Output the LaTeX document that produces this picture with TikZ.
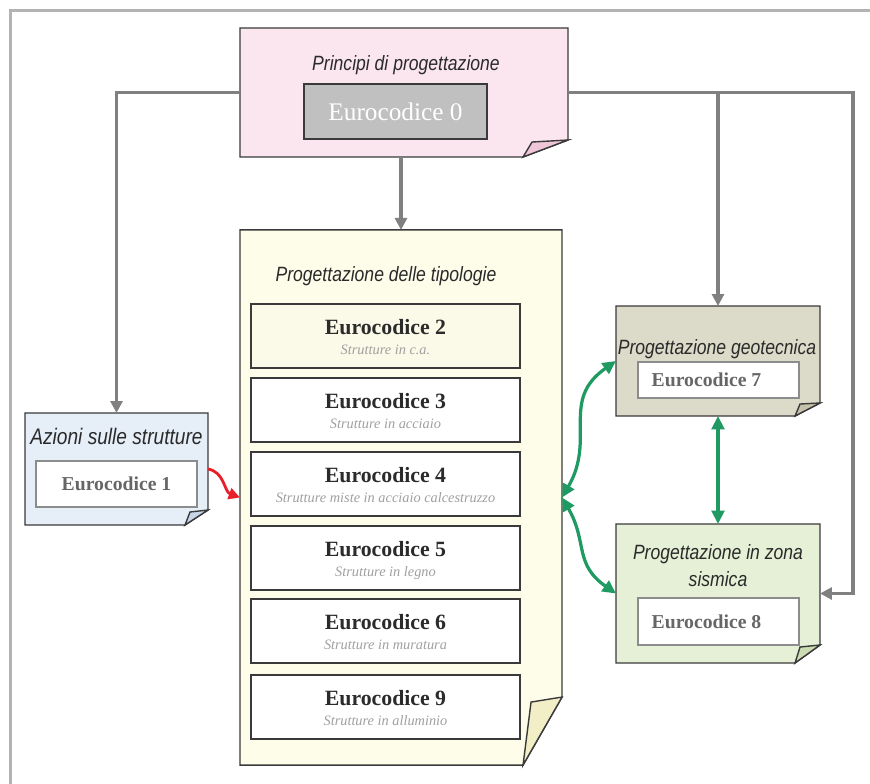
\documentclass[tikz,border=0pt]{standalone}
\usepackage{fontspec}
\setmainfont{Liberation Serif}
\newfontfamily\narrowsans[FakeStretch=0.85]{Liberation Sans}
\usetikzlibrary{arrows.meta,calc}

\definecolor{framegray}{HTML}{B3B3B3}
\definecolor{linegray}{HTML}{808080}
\definecolor{edgegray}{HTML}{3A3A3A}
\definecolor{boxgray}{HTML}{8C8C8C}
\definecolor{titlegray}{HTML}{2A2A2A}
\definecolor{ecdark}{HTML}{2B2B2B}
\definecolor{subgray}{HTML}{A0A0A0}
\definecolor{sidegray}{HTML}{666666}
\definecolor{codegray}{HTML}{C0C0C0}
\definecolor{notepink}{HTML}{FBE6EF}
\definecolor{foldpink}{HTML}{EFC6D8}
\definecolor{noteblue}{HTML}{E6EEF8}
\definecolor{foldblue}{HTML}{C9D5E8}
\definecolor{notecream}{HTML}{FEFDEA}
\definecolor{foldcream}{HTML}{F2EEC6}
\definecolor{ectwo}{HTML}{FBF9E8}
\definecolor{notekhaki}{HTML}{DCDAC8}
\definecolor{foldkhaki}{HTML}{C4C2AA}
\definecolor{notegreen}{HTML}{E6F0D6}
\definecolor{foldgreen}{HTML}{CCDDB4}
\definecolor{linkgreen}{HTML}{1E9A62}
\definecolor{linkred}{HTML}{E8202A}

\tikzset{
  notebox/.style={inner sep=0pt, outer sep=0pt},
  noteedge/.style={draw=edgegray, line width=1pt},
  notetitle/.style={inner sep=0pt, text=titlegray, font=\narrowsans\itshape\fontsize{14.7}{19.2}\selectfont},
  codebox/.style={draw=edgegray, line width=1pt, fill=codegray, minimum width=4.575cm, minimum height=1.375cm,
    inner sep=0pt, outer sep=0pt, text=white, font=\fontsize{18}{20}\selectfont},
  ecbox/.style={draw=edgegray, line width=1pt, minimum width=6.725cm, minimum height=1.6cm, inner sep=0pt, outer sep=0pt},
  ectitle/.style={anchor=base, inner sep=0pt, text=ecdark, font=\bfseries\fontsize{15.5}{18}\selectfont},
  ecsub/.style={anchor=base, inner sep=0pt, text=subgray, font=\itshape\fontsize{10.2}{12}\selectfont},
  sidebox/.style={draw=boxgray, line width=1pt, fill=white, minimum width=4.025cm, inner sep=0pt, outer sep=0pt,
    text=sidegray, font=\bfseries\fontsize{14}{16}\selectfont},
  feed/.style={draw=linegray, line width=2.2pt, -{Triangle[length=8.5pt,width=8.5pt]}},
  greenlink/.style={draw=linkgreen, line width=2.3pt, {Triangle[length=9.5pt,width=9pt]}-{Triangle[length=9.5pt,width=9pt]}},
  redlink/.style={draw=linkred, line width=2pt, -{Triangle[length=8pt,width=8pt]}}
}

\begin{document}
\begin{tikzpicture}[x=0.025cm, y=0.025cm]
  \useasboundingbox (0,0) rectangle (870,784);
  \draw[framegray, line width=2.1pt] (10.5,0) -- (10.5,773.5) -- (870,773.5);

  % sheets
  \node[notebox, minimum width=8.2cm, minimum height=3.225cm] (princ) at (404,691.5) {};
  \node[notebox, minimum width=4.575cm, minimum height=2.8cm] (azioni) at (116.5,315) {};
  \node[notebox, minimum width=8.05cm, minimum height=13.375cm] (tipol) at (401,286.5) {};
  \node[notebox, minimum width=5.1cm, minimum height=2.75cm] (geo) at (718,423) {};
  \node[notebox, minimum width=5.1cm, minimum height=3.475cm] (zona) at (718,190.5) {};

  % paper with folded corner
  \filldraw[noteedge, fill=notepink] (princ.north west) -- (princ.north east) -- ($(princ.south east)+(0,17)$)
    -- ($(princ.south east)+(-45,0)$) -- (princ.south west) -- cycle;
  \filldraw[noteedge, fill=foldpink] ($(princ.south east)+(0,17)$) -- ($(princ.south east)+(-36,15)$) -- ($(princ.south east)+(-45,0)$) -- cycle;
  \filldraw[noteedge, fill=noteblue] (azioni.north west) -- (azioni.north east) -- ($(azioni.south east)+(0,15)$)
    -- ($(azioni.south east)+(-23,0)$) -- (azioni.south west) -- cycle;
  \filldraw[noteedge, fill=foldblue] ($(azioni.south east)+(0,15)$) -- ($(azioni.south east)+(-18,13)$) -- ($(azioni.south east)+(-23,0)$) -- cycle;
  \filldraw[noteedge, fill=notecream] (tipol.north west) -- (tipol.north east) -- ($(tipol.south east)+(0,68)$)
    -- ($(tipol.south east)+(-39,0)$) -- (tipol.south west) -- cycle;
  \filldraw[noteedge, fill=foldcream] ($(tipol.south east)+(0,68)$) -- ($(tipol.south east)+(-31,63)$) -- ($(tipol.south east)+(-39,0)$) -- cycle;
  \filldraw[noteedge, fill=notekhaki] (geo.north west) -- (geo.north east) -- ($(geo.south east)+(0,13)$)
    -- ($(geo.south east)+(-25,0)$) -- (geo.south west) -- cycle;
  \filldraw[noteedge, fill=foldkhaki] ($(geo.south east)+(0,13)$) -- ($(geo.south east)+(-20,12)$) -- ($(geo.south east)+(-25,0)$) -- cycle;
  \filldraw[noteedge, fill=notegreen] (zona.north west) -- (zona.north east) -- ($(zona.south east)+(0,18)$)
    -- ($(zona.south east)+(-25,0)$) -- (zona.south west) -- cycle;
  \filldraw[noteedge, fill=foldgreen] ($(zona.south east)+(0,18)$) -- ($(zona.south east)+(-20,16)$) -- ($(zona.south east)+(-25,0)$) -- cycle;

  % titles
  \node[notetitle, anchor=base] (princt) at (406,713.3) {Principi di progettazione};
  \node[notetitle, anchor=base, font=\narrowsans\itshape\fontsize{16}{19}\selectfont] (azionit) at (116.5,339) {Azioni sulle strutture};
  \node[notetitle, anchor=base] (tipolt) at (386,502) {Progettazione delle tipologie};
  \node[notetitle, anchor=base] (geot) at (717,429) {Progettazione geotecnica};
  \node[notetitle, align=center] (zonat) at (718,218) {Progettazione in zona\\sismica};

  % codes
  \node[codebox] (ec0) at (395.5,672.5) {Eurocodice 0};
  \node[sidebox, minimum height=1.15cm] (ec1) at (116.5,300) {Eurocodice 1};
  \node[sidebox, minimum height=0.9cm] (ec7) at (718.5,404) {Eurocodice 7\hspace*{0.6cm}};
  \node[sidebox, minimum height=1.175cm] (ec8) at (718.5,162.5) {Eurocodice 8\hspace*{0.6cm}};
  \foreach \n/\y/\fl/\txt in {2/448/ectwo/Strutture in c.a., 3/374/white/Strutture in acciaio,
      4/300/white/Strutture miste in acciaio calcestruzzo, 5/226/white/Strutture in legno,
      6/153/white/Strutture in muratura, 9/77/white/Strutture in alluminio} {
    \node[ecbox, fill=\fl] (ec\n) at (385.5,\y) {};
    \node[ectitle] (ect\n) at ($(ec\n.center)+(0,1)$) {Eurocodice \n};
    \node[ecsub] (ecs\n) at ($(ec\n.center)+(0,-19)$) {\txt};
  }

  % connectors
  \coordinate (rturn) at (853,190.5);
  \draw[feed] (princ.west) -| (azioni.north);
  \draw[feed] (princ.east) -| (rturn) -- (zona.east);
  \draw[feed] (princ.east -| geo.north) -- (geo.north);
  \draw[feed] (princ.south -| tipol.north) -- (tipol.north);
  \draw[greenlink] (tipol.east) to[out=60,in=-145,looseness=1.2] (geo.west);
  \draw[greenlink] (tipol.east) to[out=-60,in=145,looseness=1.2] (zona.west);
  \draw[greenlink] (geo.south) -- (zona.north);
  \draw[redlink] (azioni.east) to[out=-10,in=160] (tipol.west);
\end{tikzpicture}
\end{document}
